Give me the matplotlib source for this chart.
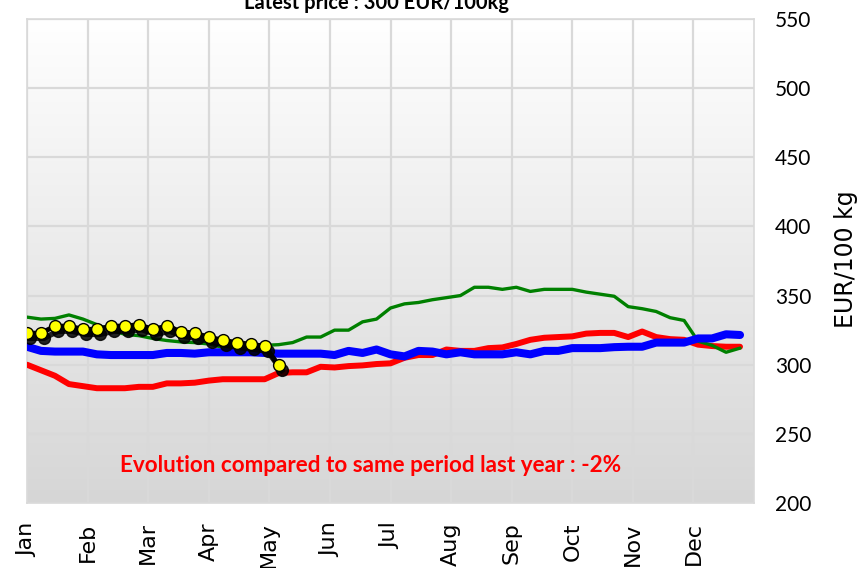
import numpy as np
import matplotlib
matplotlib.use("Agg")
import matplotlib.pyplot as plt
from matplotlib.colors import LinearSegmentedColormap
import matplotlib.transforms as mtransforms

months = ["Jan", "Feb", "Mar", "Apr", "May", "Jun", "Jul", "Aug", "Sep", "Oct", "Nov", "Dec"]
y_ticks = [200, 250, 300, 350, 400, 450, 500, 550]

red_values = [300, 296, 292, 286, 284.5, 283, 283, 283, 284, 284, 286.5, 286.5, 287, 288.5,
              289.5, 289.5, 289.5, 289.5, 294, 294.5, 294.5, 298.5, 298, 299, 299.5, 300.5,
              301, 305, 307, 307, 311, 310, 310, 312, 312.5, 315, 318, 319.5, 320, 320.5,
              322.5, 323, 323, 320, 324, 320, 318.5, 318, 314.5, 313.5, 313, 313]
green_values = [334.4, 333, 333.5, 336, 333, 329, 325, 322, 321, 319, 317.5, 316.5, 316, 315,
                312.5, 313, 313.5, 314, 314.5, 316, 320, 320, 325, 325, 331, 333, 341, 344,
                345, 347, 348.5, 350, 356, 356, 354.5, 356, 353, 354.5, 354.5, 354.5, 352.5,
                351, 349.5, 342, 340.5, 338.5, 334, 332, 317, 314, 309, 312]
blue_values = [313, 310, 309.5, 309.5, 309.5, 307.5, 307, 307, 307, 307, 308.5, 308.5, 308,
               309, 309, 309, 309, 308.5, 308, 308, 308, 308, 307, 310, 308.5, 311, 307.5,
               306, 310, 309.5, 307.5, 309, 307.5, 307.5, 307.5, 309, 307.5, 310, 310, 312,
               312, 312, 312.7, 313, 313, 316, 316, 316, 319, 319, 322, 321.5]
current_values = [322.8, 322.8, 327.9, 327.9, 325.6, 325.6, 327.9, 327.9, 329, 325.6, 327.9,
                  324, 322.8, 320, 317.7, 316, 314.8, 313.4, 299.5]

title_text = "Latest price : 300 EUR/100kg"
note_text = "Evolution compared to same period last year : -2%"
ylabel_text = "EUR/100 kg"

W, H = 863, 568
fig = plt.figure(figsize=(W / 100, H / 100), dpi=100)
ax = fig.add_axes([27 / W, (H - 503) / H, (754 - 27) / W, (503 - 19) / H])

n_weeks = 52
ax.set_xlim(0, n_weeks)
ax.set_ylim(200, 550)

cmap = LinearSegmentedColormap.from_list("bg", ["#d6d6d6", "#ffffff"])
grad = np.linspace(0, 1, 256)[:, None]
ax.imshow(grad, extent=[0, n_weeks, 200, 550], aspect="auto", cmap=cmap,
          origin="lower", zorder=-2, interpolation="bicubic")

ax.set_xticks([m * n_weeks / 12 for m in range(12)])
ax.set_xticklabels(months, rotation=90, fontsize=16, family="DejaVu Sans")
ax.set_yticks(y_ticks)
ax.set_yticklabels([str(v) for v in y_ticks], fontsize=15, family="Lato")
ax.yaxis.tick_right()
ax.tick_params(axis="both", length=0)
ax.tick_params(axis="y", pad=15)
ax.tick_params(axis="x", pad=14)
ax.grid(True, color="#d9d9d9", lw=1.6)
ax.set_axisbelow(True)
for s in ax.spines.values():
    s.set_color("#d9d9d9")
    s.set_linewidth(1.2)

fig.text(846 / W, 1 - 259 / H, ylabel_text, rotation=90, ha="center", va="center",
         fontsize=17, family="DejaVu Sans")

x_all = np.arange(len(red_values))
ax.plot(x_all, red_values, color="#ff0000", lw=4.3, solid_capstyle="round", zorder=3)
ax.plot(x_all, green_values, color="#008000", lw=2.4, solid_capstyle="round", zorder=4)
ax.plot(x_all, blue_values, color="#0000ff", lw=5.8, solid_capstyle="round", zorder=5)

xc = np.arange(len(current_values))
shadow = mtransforms.offset_copy(ax.transData, fig=fig, x=3, y=-5, units="dots")
ax.plot(xc, current_values, color="black", lw=4, transform=shadow, zorder=6, alpha=0.85)
ax.plot(xc, current_values, color="black", lw=0, marker="o", ms=8.5, transform=shadow,
        zorder=6, alpha=0.85)
ax.plot(xc, current_values, color="black", lw=3.5, zorder=7)
ax.plot(xc, current_values, lw=0, marker="o", ms=8.5, markerfacecolor="#ffff00",
        markeredgecolor="black", markeredgewidth=1, zorder=8)

ax.text((371 - 27) / 727, (503 - 466) / 484, note_text, transform=ax.transAxes,
        ha="center", va="center", color="#ff0000", fontsize=16.2, fontweight="bold",
        family="Lato")

fig.text(376 / W, 1 - 9 / H, title_text, ha="center", va="baseline", fontsize=14.5,
         fontweight="bold", family="Lato")

fig.savefig("out.png", dpi=100)
